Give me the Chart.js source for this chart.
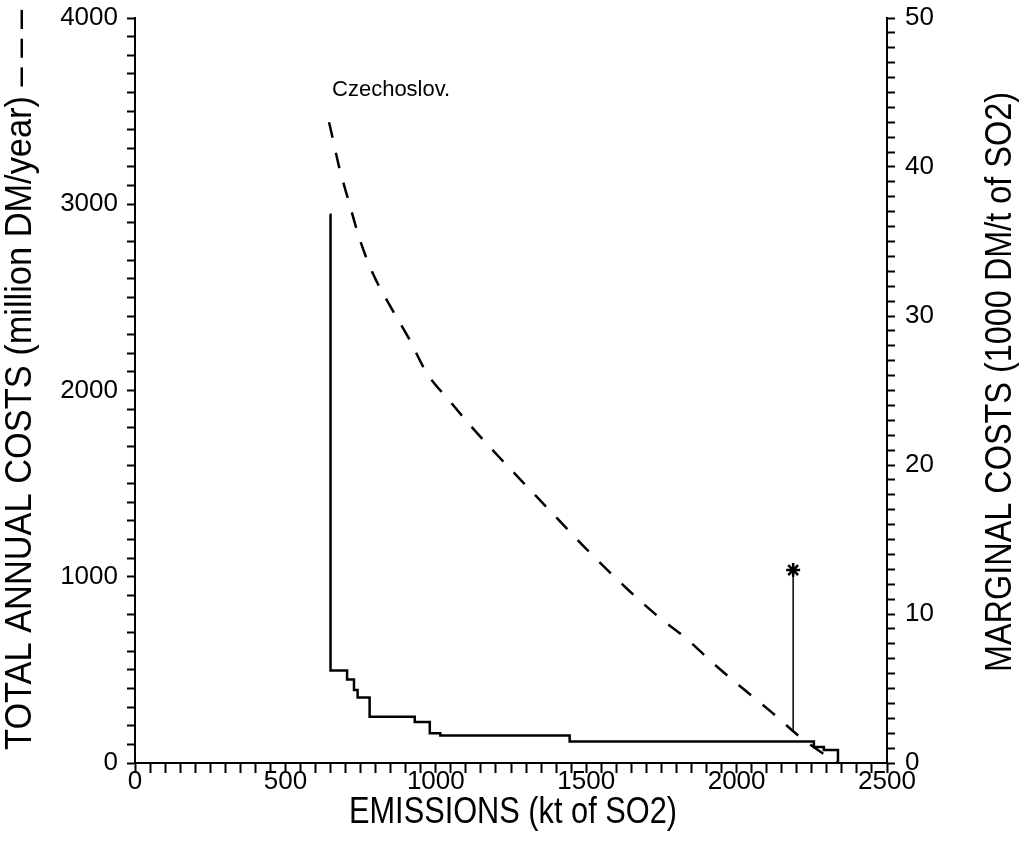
<!DOCTYPE html>
<html>
<head>
<meta charset="utf-8">
<script src="https://cdn.jsdelivr.net/npm/chart.js@4.4.1/dist/chart.umd.min.js"></script>
<style>
html,body{margin:0;padding:0;background:#fff;}
#wrap{width:1019px;height:844px;}
</style>
</head>
<body>
<div id="wrap"><canvas id="c" width="1019" height="844"></canvas></div>
<script>
// Total annual costs (dashed, left axis, million DM/year)
const totalEmissions = [645, 651, 679, 712, 747, 792, 848, 911, 970, 1047, 1127, 1201, 1300, 1400, 1500, 1640, 1736, 1833, 1924, 2020, 2117, 2207, 2270, 2334];
const totalCosts     = [3440, 3399, 3198, 3007, 2812, 2624, 2454, 2278, 2094, 1942, 1790, 1659, 1490, 1320, 1150, 929, 791, 668, 533, 401, 272, 145, 70, 0];

// Marginal costs (solid step line, right axis, 1000 DM/t of SO2)
// each level runs from its emission value to the next one
const marginalEmissions = [647, 650, 705, 728, 740, 780, 930, 980, 1015, 1445, 2257, 2290, 2337];
const marginalCosts     = [36.8, 6.2, 5.6, 4.9, 4.4, 3.1, 2.75, 2.0, 1.85, 1.45, 1.07, 0.87, 0];

// Current-situation marker (asterisk) on left axis
const markerEmissions = [2188, 2188];
const markerCosts     = [172, 1036];

// Axis ranges / ticks
const xRange = [0, 2500], xMinorStep = 50, xMajorStep = 500;
const yLeftRange = [0, 4000], yLeftMinorStep = 100, yLeftMajorStep = 1000;
const yRightRange = [0, 50], yRightMinorStep = 1, yRightMajorStep = 10;

const countryLabel = 'Czechoslov.';
const countryLabelPos = [655, 3613];

const xTitle = 'EMISSIONS (kt of SO2)';
const yLeftTitle = 'TOTAL ANNUAL COSTS (million DM/year) \u2013 \u2013 \u2013';
const yRightTitle = 'MARGINAL COSTS (1000 DM/t of SO2)';

const pts = (xs, ys) => xs.map((x, i) => ({x: x, y: ys[i]}));

const BASE = "'Liberation Sans', Arial, sans-serif";
Chart.defaults.font.family = BASE;
Chart.defaults.color = '#000';

// draw text compressed along its direction to fit a given length (condensed look)
function fitText(ctx, text, cx, cy, rot, px, len) {
  ctx.save();
  ctx.font = px + 'px ' + BASE;
  ctx.textAlign = 'center';
  ctx.textBaseline = 'middle';
  const w = ctx.measureText(text).width;
  ctx.translate(cx, cy);
  ctx.rotate(rot);
  ctx.scale(len / w, 1);
  ctx.fillText(text, 0, 0);
  ctx.restore();
}

const extras = {
  id: 'extras',
  afterDraw(chart) {
    const ctx = chart.ctx;
    const xs = chart.scales.x, ys = chart.scales.y;
    ctx.save();
    ctx.fillStyle = '#000';
    ctx.font = "22px " + BASE;
    ctx.textAlign = 'left';
    ctx.textBaseline = 'middle';
    ctx.fillText(countryLabel, xs.getPixelForValue(countryLabelPos[0]), ys.getPixelForValue(countryLabelPos[1]));
    ctx.restore();
    ctx.fillStyle = '#000';
    fitText(ctx, xTitle, 513, 813, 0, 37, 328);
    fitText(ctx, yLeftTitle, 21, 380, -Math.PI / 2, 36, 740);
    fitText(ctx, yRightTitle, 1001, 382, -Math.PI / 2, 36, 580);
  }
};

const fixV = w => s => { s.width = w; s.paddingTop = 0; s.paddingBottom = 0; };

new Chart(document.getElementById('c'), {
  type: 'line',
  data: {
    datasets: [
      {
        label: 'Total annual costs',
        data: pts(totalEmissions, totalCosts),
        yAxisID: 'y',
        borderColor: '#000',
        borderWidth: 2.5,
        borderDash: [16, 15],
        pointRadius: 0,
        fill: false,
        cubicInterpolationMode: 'monotone'
      },
      {
        label: 'Marginal costs',
        data: pts(marginalEmissions, marginalCosts),
        yAxisID: 'y1',
        borderColor: '#000',
        borderWidth: 2.5,
        stepped: 'before',
        pointRadius: 0,
        fill: false
      },
      {
        label: 'Marker',
        data: pts(markerEmissions, markerCosts),
        yAxisID: 'y',
        borderColor: '#000',
        borderWidth: 1.5,
        pointStyle: 'star',
        pointRadius: [0, 7],
        pointBorderWidth: 2.5,
        pointBorderColor: '#000',
        fill: false
      }
    ]
  },
  options: {
    responsive: false,
    animation: false,
    layout: {autoPadding: false, padding: {top: 18, left: 0, right: 0, bottom: 0}},
    plugins: {legend: {display: false}, tooltip: {enabled: false}},
    scales: {
      x: {
        type: 'linear', position: 'bottom',
        min: xRange[0], max: xRange[1],
        afterFit: s => { s.height = 81; s.paddingLeft = 0; s.paddingRight = 0; },
        border: {color: '#000', width: 2},
        grid: {drawOnChartArea: false, tickLength: 10, tickWidth: 2, tickColor: '#000'},
        ticks: {
          stepSize: xMinorStep, autoSkip: false, maxRotation: 0, padding: -4,
          font: {size: 26, lineHeight: 1},
          callback: v => (v % xMajorStep === 0 ? String(v) : '')
        }
      },
      y: {
        type: 'linear', position: 'left',
        min: yLeftRange[0], max: yLeftRange[1],
        afterFit: fixV(135),
        border: {color: '#000', width: 2},
        grid: {drawOnChartArea: false, tickLength: 8, tickWidth: 2, tickColor: '#000'},
        ticks: {
          stepSize: yLeftMinorStep, autoSkip: false, padding: 9,
          font: {size: 26},
          callback: v => (v % yLeftMajorStep === 0 ? String(v) : '')
        }
      },
      y1: {
        type: 'linear', position: 'right',
        min: yRightRange[0], max: yRightRange[1],
        afterFit: fixV(132),
        border: {color: '#000', width: 2},
        grid: {drawOnChartArea: false, tickLength: 8, tickWidth: 2, tickColor: '#000'},
        ticks: {
          stepSize: yRightMinorStep, autoSkip: false, padding: 10,
          font: {size: 26},
          callback: v => (v % yRightMajorStep === 0 ? String(v) : '')
        }
      }
    }
  },
  plugins: [extras]
});
</script>
</body>
</html>
